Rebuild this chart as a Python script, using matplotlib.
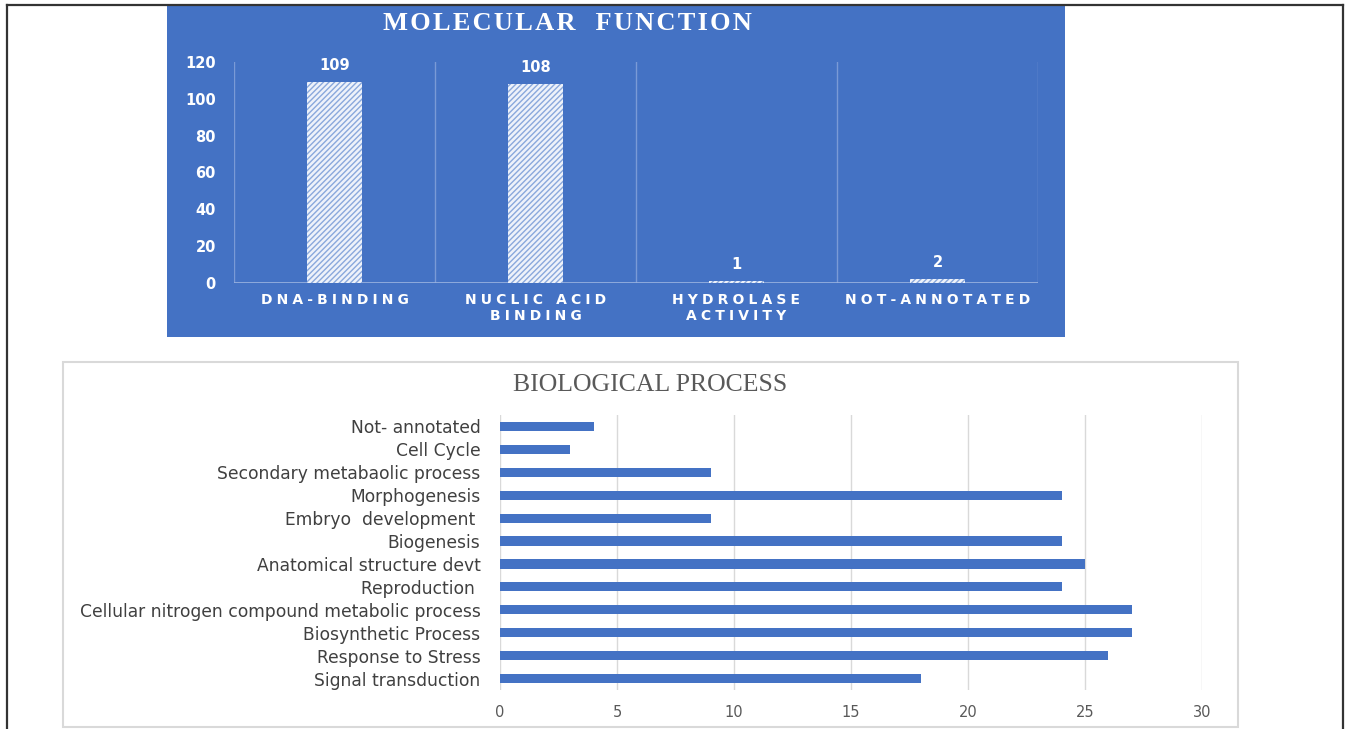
import matplotlib
matplotlib.use("Agg")
import matplotlib.pyplot as plt
from matplotlib.patches import Rectangle
from matplotlib.lines import Line2D

W, H = 1346, 729

# ---------------- data ----------------
mf_categories = ["DNA-BINDING", "NUCLIC ACID\nBINDING", "HYDROLASE\nACTIVITY", "NOT-ANNOTATED"]
mf_values = [109, 108, 1, 2]
mf_yticks = [0, 20, 40, 60, 80, 100, 120]

bp_categories = ["Signal transduction", "Response to Stress", "Biosynthetic Process",
                 "Cellular nitrogen compound metabolic process", "Reproduction ",
                 "Anatomical structure devt", "Biogenesis", "Embryo  development ",
                 "Morphogenesis", "Secondary metabaolic process", "Cell Cycle",
                 "Not- annotated"]
bp_values = [18, 26, 27, 27, 24, 25, 24, 9, 24, 9, 3, 4]
bp_xticks = [0, 5, 10, 15, 20, 25, 30]

BLUE = "#4472C4"

def rect(l, t, r, b):
    return [l / W, 1 - b / H, (r - l) / W, (b - t) / H]

def spaced(s, gap="\u2009\u200a"):
    return "\n".join(gap.join(line) for line in s.split("\n"))

fig = plt.figure(figsize=(W / 100, H / 100), dpi=100)
fig.patch.set_facecolor("white")

# outer frame
fig.add_artist(Line2D([7 / W, 7 / W], [0, 1 - 5 / H], color="#333333", lw=1.6))
fig.add_artist(Line2D([7 / W, 1343 / W], [1 - 5 / H, 1 - 5 / H], color="#333333", lw=1.6))
fig.add_artist(Line2D([1343 / W, 1343 / W], [0, 1 - 5 / H], color="#333333", lw=1.6))

# ---------------- top panel ----------------
fig.add_artist(Rectangle((167 / W, 1 - 337 / H), (1065 - 167) / W, (337 - 5) / H,
                         transform=fig.transFigure, facecolor=BLUE, edgecolor="none", zorder=0))
fig.text(567 / W, 1 - 23 / H, spaced("MOLECULAR  FUNCTION", "\u200a"), color="white",
         fontsize=19, fontweight="bold", family=["Liberation Serif", "DejaVu Serif"],
         ha="center", va="center")

ax1 = fig.add_axes(rect(234, 62, 1038, 283))
ax1.set_facecolor("none")
plt.rcParams["hatch.linewidth"] = 1.0
x1 = list(range(len(mf_categories)))
ax1.bar(x1, mf_values, width=0.27, facecolor="#eef2fa", edgecolor="#8aa8dc",
        hatch="//////", linewidth=0, zorder=3)
for xi, v in zip(x1, mf_values):
    ax1.text(xi, v + 5, str(v), color="white", fontsize=10.5, fontweight="bold",
             ha="center", va="bottom")
ax1.set_xlim(-0.5, len(mf_categories) - 0.5)
ax1.set_ylim(0, 120)
for b in [i - 0.5 for i in range(len(mf_categories) + 1)]:
    ax1.axvline(b, color="#7a9ad6", lw=1.0, zorder=1)
ax1.axhline(0, color="#9bb3e0", lw=1.2, zorder=2)
for s in ax1.spines.values():
    s.set_visible(False)
ax1.set_yticks(mf_yticks)
ax1.set_yticklabels([str(t) for t in mf_yticks], color="white", fontsize=10.5, fontweight="bold")
ax1.set_xticks(x1)
ax1.set_xticklabels([spaced(c) for c in mf_categories], color="white", fontsize=10,
                    fontweight="bold", linespacing=1.2,
                    family=["DejaVu Sans"])
ax1.tick_params(axis="both", length=0)
ax1.tick_params(axis="y", pad=13)
ax1.tick_params(axis="x", pad=7)

# ---------------- bottom panel ----------------
fig.add_artist(Rectangle((63 / W, 1 - 727 / H), (1238 - 63) / W, (727 - 362) / H,
                         transform=fig.transFigure, facecolor="white", edgecolor="#d9d9d9",
                         lw=1.5, zorder=0))
fig.text(650 / W, 1 - 385 / H, "BIOLOGICAL PROCESS", color="#595959", fontsize=18.5,
         family="Liberation Serif", ha="center", va="center")

ax2 = fig.add_axes(rect(500, 415, 1202, 690))
ax2.set_facecolor("none")
y2 = list(range(len(bp_categories)))
ax2.barh(y2, bp_values, height=0.4, color=BLUE, zorder=3)
ax2.set_xlim(0, 30)
ax2.set_ylim(-0.5, len(bp_categories) - 0.5)
ax2.set_xticks(bp_xticks)
ax2.set_xticklabels([str(t) for t in bp_xticks], color="#595959", fontsize=10.5)
ax2.set_yticks(y2)
ax2.set_yticklabels(bp_categories, color="#404040", fontsize=12.3)
ax2.grid(axis="x", color="#d9d9d9", lw=1.0, zorder=0)
for s in ax2.spines.values():
    s.set_visible(False)
ax2.tick_params(axis="both", length=0)
ax2.tick_params(axis="x", pad=11)
ax2.tick_params(axis="y", pad=14)

fig.savefig("out.png", dpi=100)
